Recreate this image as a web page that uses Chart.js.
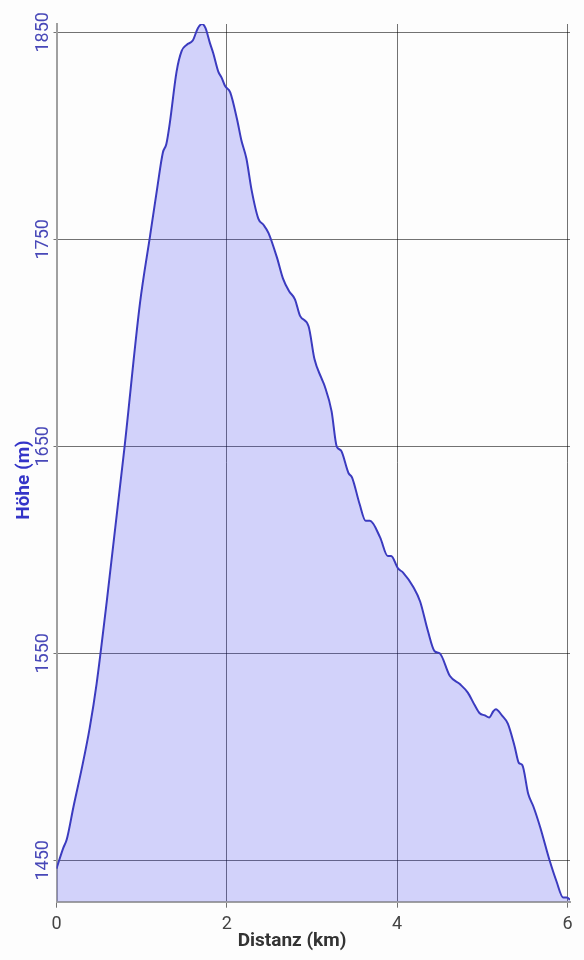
<!DOCTYPE html>
<html>
<head>
<meta charset="utf-8">
<script src="https://cdn.jsdelivr.net/npm/chart.js@4"></script>
<style>
    html, body { margin: 0; padding: 0; background: #fdfdfd; }
    #wrap { width: 584px; height: 960px; }
</style>
</head>
<body>
<div id="wrap"><canvas id="hoehenChart"></canvas></div>
<script>
// Distanz in km, Höhe in m
const distanz = [0, 0.08, 0.12, 0.2, 0.3, 0.39, 0.47, 0.59, 0.8, 0.98, 1.1, 1.18, 1.25, 1.29, 1.33, 1.41, 1.47, 1.53, 1.6, 1.66, 1.71, 1.75, 1.8, 1.84, 1.9, 1.94, 1.98, 2.04, 2.12, 2.17, 2.23, 2.29, 2.37, 2.43, 2.49, 2.59, 2.66, 2.73, 2.8, 2.86, 2.96, 3.03, 3.11, 3.15, 3.23, 3.29, 3.34, 3.43, 3.47, 3.56, 3.63, 3.68, 3.8, 3.89, 3.93, 4.01, 4.07, 4.19, 4.27, 4.36, 4.44, 4.5, 4.62, 4.74, 4.83, 4.91, 4.97, 5.03, 5.08, 5.13, 5.16, 5.23, 5.3, 5.38, 5.43, 5.47, 5.54, 5.6, 5.68, 5.79, 5.87, 5.95, 5.99, 6.03]
const hoehe = [1446, 1456, 1460, 1476, 1495, 1514, 1535, 1575, 1650, 1719, 1752, 1774, 1792, 1796, 1806, 1831, 1841, 1844, 1846, 1852, 1854, 1852, 1845, 1840, 1831, 1828, 1824, 1821, 1808, 1798, 1789, 1774, 1760, 1757, 1753, 1741, 1731, 1725, 1721, 1713, 1708, 1692, 1683, 1679, 1667, 1650, 1648, 1637, 1635, 1622, 1614, 1614, 1606, 1597, 1597, 1591, 1589, 1582, 1575, 1561, 1551, 1550, 1539, 1535, 1531, 1525, 1521, 1520, 1519, 1522, 1523, 1520, 1516, 1505, 1497, 1496, 1482, 1476, 1466, 1450, 1440, 1432, 1432, 1431]
const yTicks = [1450, 1550, 1650, 1750, 1850]
const xTicks = [0, 2, 4, 6]
const xTitel = 'Distanz (km)'
const yTitel = 'Höhe (m)'

let grafico

// Achsentitel mittig auf der ganzen Fläche (nicht nur über dem Plotbereich)
const achsenTitel = {
    id: 'achsenTitel',
    afterDraw(chart) {
        const c = chart.ctx
        c.save()
        c.font = 'bold 19px Roboto'
        c.textAlign = 'center'
        c.textBaseline = 'middle'

        c.fillStyle = '#333'
        c.fillText(xTitel, chart.width / 2, 941)

        c.translate(24, chart.height / 2)
        c.rotate(-Math.PI / 2)
        c.fillStyle = '#3434c8'
        c.fillText(yTitel, 0, 0)
        c.restore()
    }
}

document.addEventListener('DOMContentLoaded', () => {
    const ctx = document.getElementById('hoehenChart')
    Chart.defaults.font.family = 'Roboto'

    const punkte = distanz.map((d, i) => ({ x: d, y: hoehe[i] }))

    grafico = new Chart(ctx, {
        type: 'line',
        data: {
            datasets: [{
                label: 'Höhe',
                data: punkte,
                borderColor: '#3b3bbf',
                borderWidth: 2,
                backgroundColor: 'rgba(40, 40, 240, 0.2)',
                fill: 'start',
                pointRadius: 0,
                cubicInterpolationMode: 'monotone'
            }]
        },
        options: {
            responsive: true,
            maintainAspectRatio: false,
            animation: false,
            layout: { padding: { top: 24, right: 14, left: 0, bottom: 9.4 } },
            plugins: {
                legend: { display: false },
                tooltip: { enabled: false }
            },
            scales: {
                x: {
                    type: 'linear',
                    min: 0,
                    max: 6.03,
                    afterBuildTicks: axis => { axis.ticks = xTicks.map(v => ({ value: v })) },
                    afterFit: axis => { axis.height = 48.9 },
                    grid: { color: 'rgba(0, 0, 0, 0.55)', lineWidth: 1, tickLength: 6 },
                    border: { color: '#a0a0a0', width: 2 },
                    ticks: { color: '#444', font: { size: 18 }, padding: 6.3, maxRotation: 0, callback: v => String(v) },
                    title: { display: false }
                },
                y: {
                    min: 1430,
                    max: 1854,
                    afterBuildTicks: axis => { axis.ticks = yTicks.map(v => ({ value: v })) },
                    afterFit: axis => { axis.width = 56.5 },
                    grid: { color: 'rgba(0, 0, 0, 0.55)', lineWidth: 1, tickLength: 3 },
                    border: { color: '#a0a0a0', width: 2 },
                    ticks: {
                        color: '#4848b8',
                        font: { size: 18 },
                        minRotation: 90,
                        maxRotation: 90,
                        crossAlign: 'center',
                        padding: -9.75,
                        callback: v => String(v)
                    },
                    title: { display: false }
                }
            }
        },
        plugins: [achsenTitel]
    })
})
</script>
</body>
</html>
